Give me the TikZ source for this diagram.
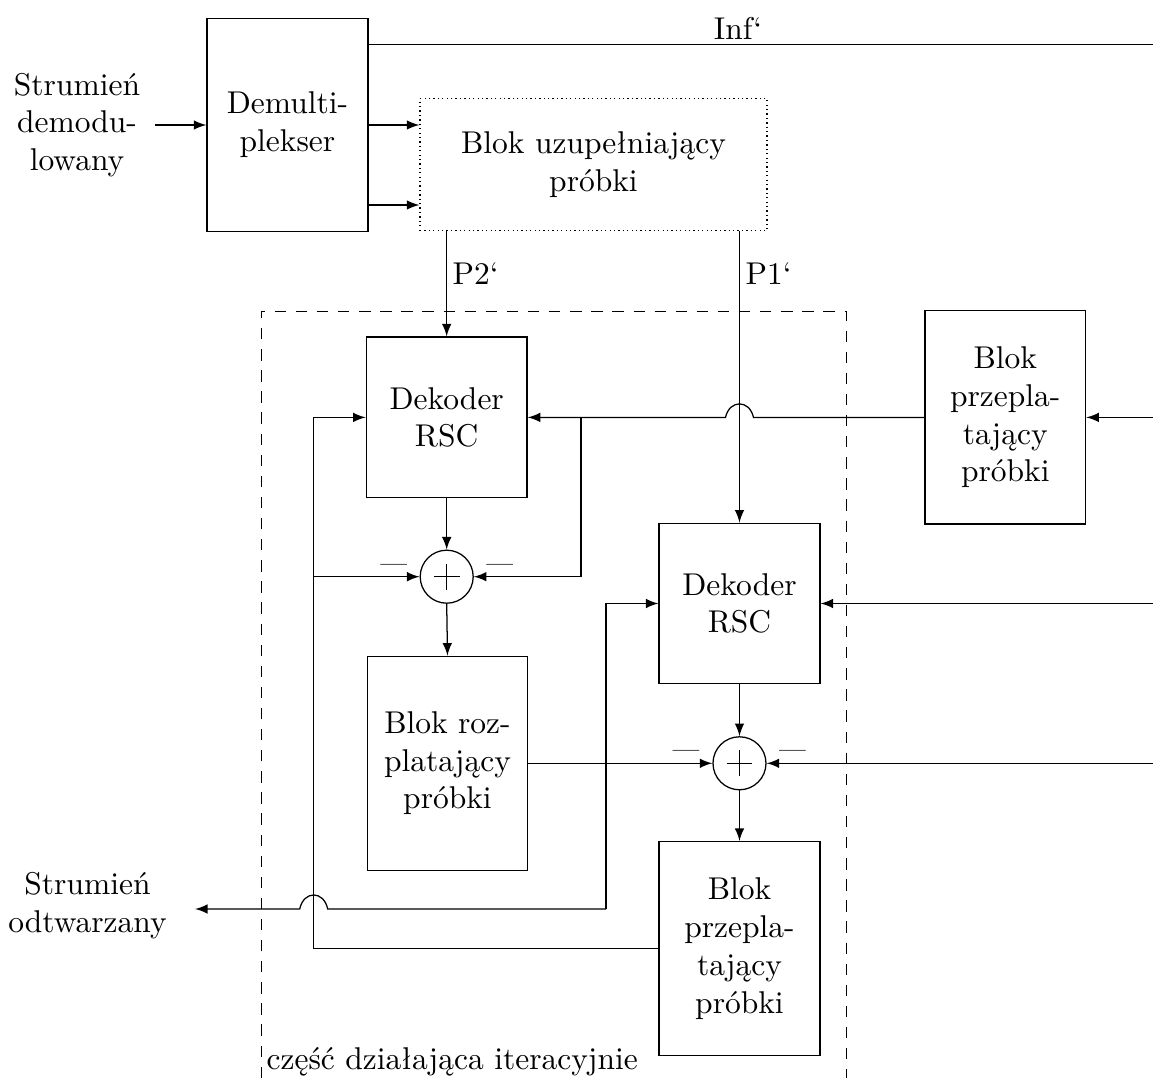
\documentclass[tikz,border=0pt]{standalone}
\usetikzlibrary{calc}

\begin{document}
\begin{tikzpicture}[x=0.3175pt,y=-0.3175pt,>=latex,
  every node/.style={inner sep=0pt},
  blok/.style 2 args={draw, align=center, minimum width={#1*0.3175pt}, minimum height={#2*0.3175pt}},
  sumator/.style={draw, circle, minimum size={53*0.3175pt},
    path picture={
      \draw ([xshift=-4.1pt]path picture bounding box.center) -- ([xshift=4.1pt]path picture bounding box.center);
      \draw ([yshift=-4.1pt]path picture bounding box.center) -- ([yshift=4.1pt]path picture bounding box.center);}},
  minus/.style={font=\footnotesize, anchor=base},
  opis/.style={align=center},
  ramka/.style={line width=0.3pt, dash pattern=on 3.6pt off 3.1pt}]
\useasboundingbox (0,0) rectangle (1153,1078);

% input section
\node[blok={161}{213.5}] (demux) at (287.5,125) {Demulti-\\plekser};
\node[opis] (wej) at (77,125) {Strumień\\demodu-\\lowany};
\coordinate (wejA) at (155,125);
\node[blok={347}{132}, densely dotted] (uzup) at (593.5,164.7) {Blok uzupełniający\\próbki};

% iterative decoding section
\node[blok={160.7}{160.7}] (dec1) at (446.7,417.4) {Dekoder\\RSC};
\node[sumator] (sum1) at (446.7,576.7) {};
\node[blok={160}{214}] (deint) at (447.5,763.3) {Blok roz-\\platający\\próbki};
\node[blok={160.8}{160.4}] (dec2) at (739.5,603.5) {Dekoder\\RSC};
\node[sumator] (sum2) at (739.5,763.3) {};
\node[blok={161}{214}] (int2) at (739.5,948.6) {Blok\\przepla-\\tający\\próbki};
\node[blok={160.7}{213.3}] (int1) at (1005.3,417.4) {Blok\\przepla-\\tający\\próbki};

% frame of the iterative part
\draw[ramka] (261,1078) |- (846,311) -- (846,1078);
\node[anchor=base west] (iter) at (266,1070) {część działająca iteracyjnie};

% output label
\node[opis] (wyj) at (87.5,906) {Strumień\\odtwarzany};
\coordinate (wyjA) at (195,909);

% free ends on the right
\coordinate (infK) at (1153,44.7);
\coordinate (inA) at (1153,417.4);
\coordinate (inB) at (1153,603.5);
\coordinate (inC) at (1153,763.3);

% demultiplexer connections
\draw[->] (wejA) -- (demux.west);
\draw (demux.east |- infK) -- (infK);
\node[anchor=base] (infL) at (738,40) {Inf‘};
\draw[->] (demux.east) -- (demux.east -| uzup.west);
\coordinate (d2) at ($(demux.east)+(0,80)$);
\draw[->] (d2) -- (d2 -| uzup.west);

% parity streams
\draw[->] (uzup.south -| dec1.north) -- (dec1.north);
\node[anchor=base west] (p2l) at (452,285) {P2‘};
\draw[->] (uzup.south -| dec2.north) -- (dec2.north);
\node[anchor=base west] (p1l) at (745,285) {P1‘};

% interleaved input to the first decoder (hops over P1')
\draw[->] (inA) -- (int1.east);
\coordinate (hopA) at (dec2.north |- dec1.east);
\draw[->] (int1.west) -- ($(hopA)+(14,0)$) .. controls +(-4,-18) and +(4,-18) .. ($(hopA)+(-14,0)$) -- (dec1.east);
\coordinate (br1) at ($(dec1.east)+(53.3,0)$);
\draw[->] (br1) |- (sum1.east);

% feedback from the lower interleaver
\coordinate (fb) at ($(dec1.west)+(-52,0)$);
\draw[->] (int2.west) -| (fb) -- (dec1.west);
\draw[->] (fb |- sum1.west) -- (sum1.west);

% first decoder chain
\draw[->] (dec1.south) -- (sum1.north);
\draw[->] (sum1.south) -- (deint.north);
\node[minus] (m1) at ($(sum1)+(-53,-5.5)$) {—};
\node[minus] (m2) at ($(sum1)+(53,-5.5)$) {—};

% second decoder chain
\draw[->] (deint.east) -- (sum2.west);
\draw[->] (inB) -- (dec2.east);
\draw[->] (inC) -- (sum2.east);
\draw[->] (dec2.south) -- (sum2.north);
\draw[->] (sum2.south) -- (int2.north);
\node[minus] (m3) at ($(sum2)+(-53.5,-6)$) {—};
\node[minus] (m4) at ($(sum2)+(53,-6)$) {—};

% output stream (hops over the feedback line)
\coordinate (mv) at (606,909);
\draw[->] (mv) |- (dec2.west);
\coordinate (hopB) at (fb |- mv);
\draw[->] (mv) -- ($(hopB)+(14,0)$) .. controls +(-4,-18.7) and +(4,-18.7) .. ($(hopB)+(-14,0)$) -- (wyjA);
\end{tikzpicture}
\end{document}
